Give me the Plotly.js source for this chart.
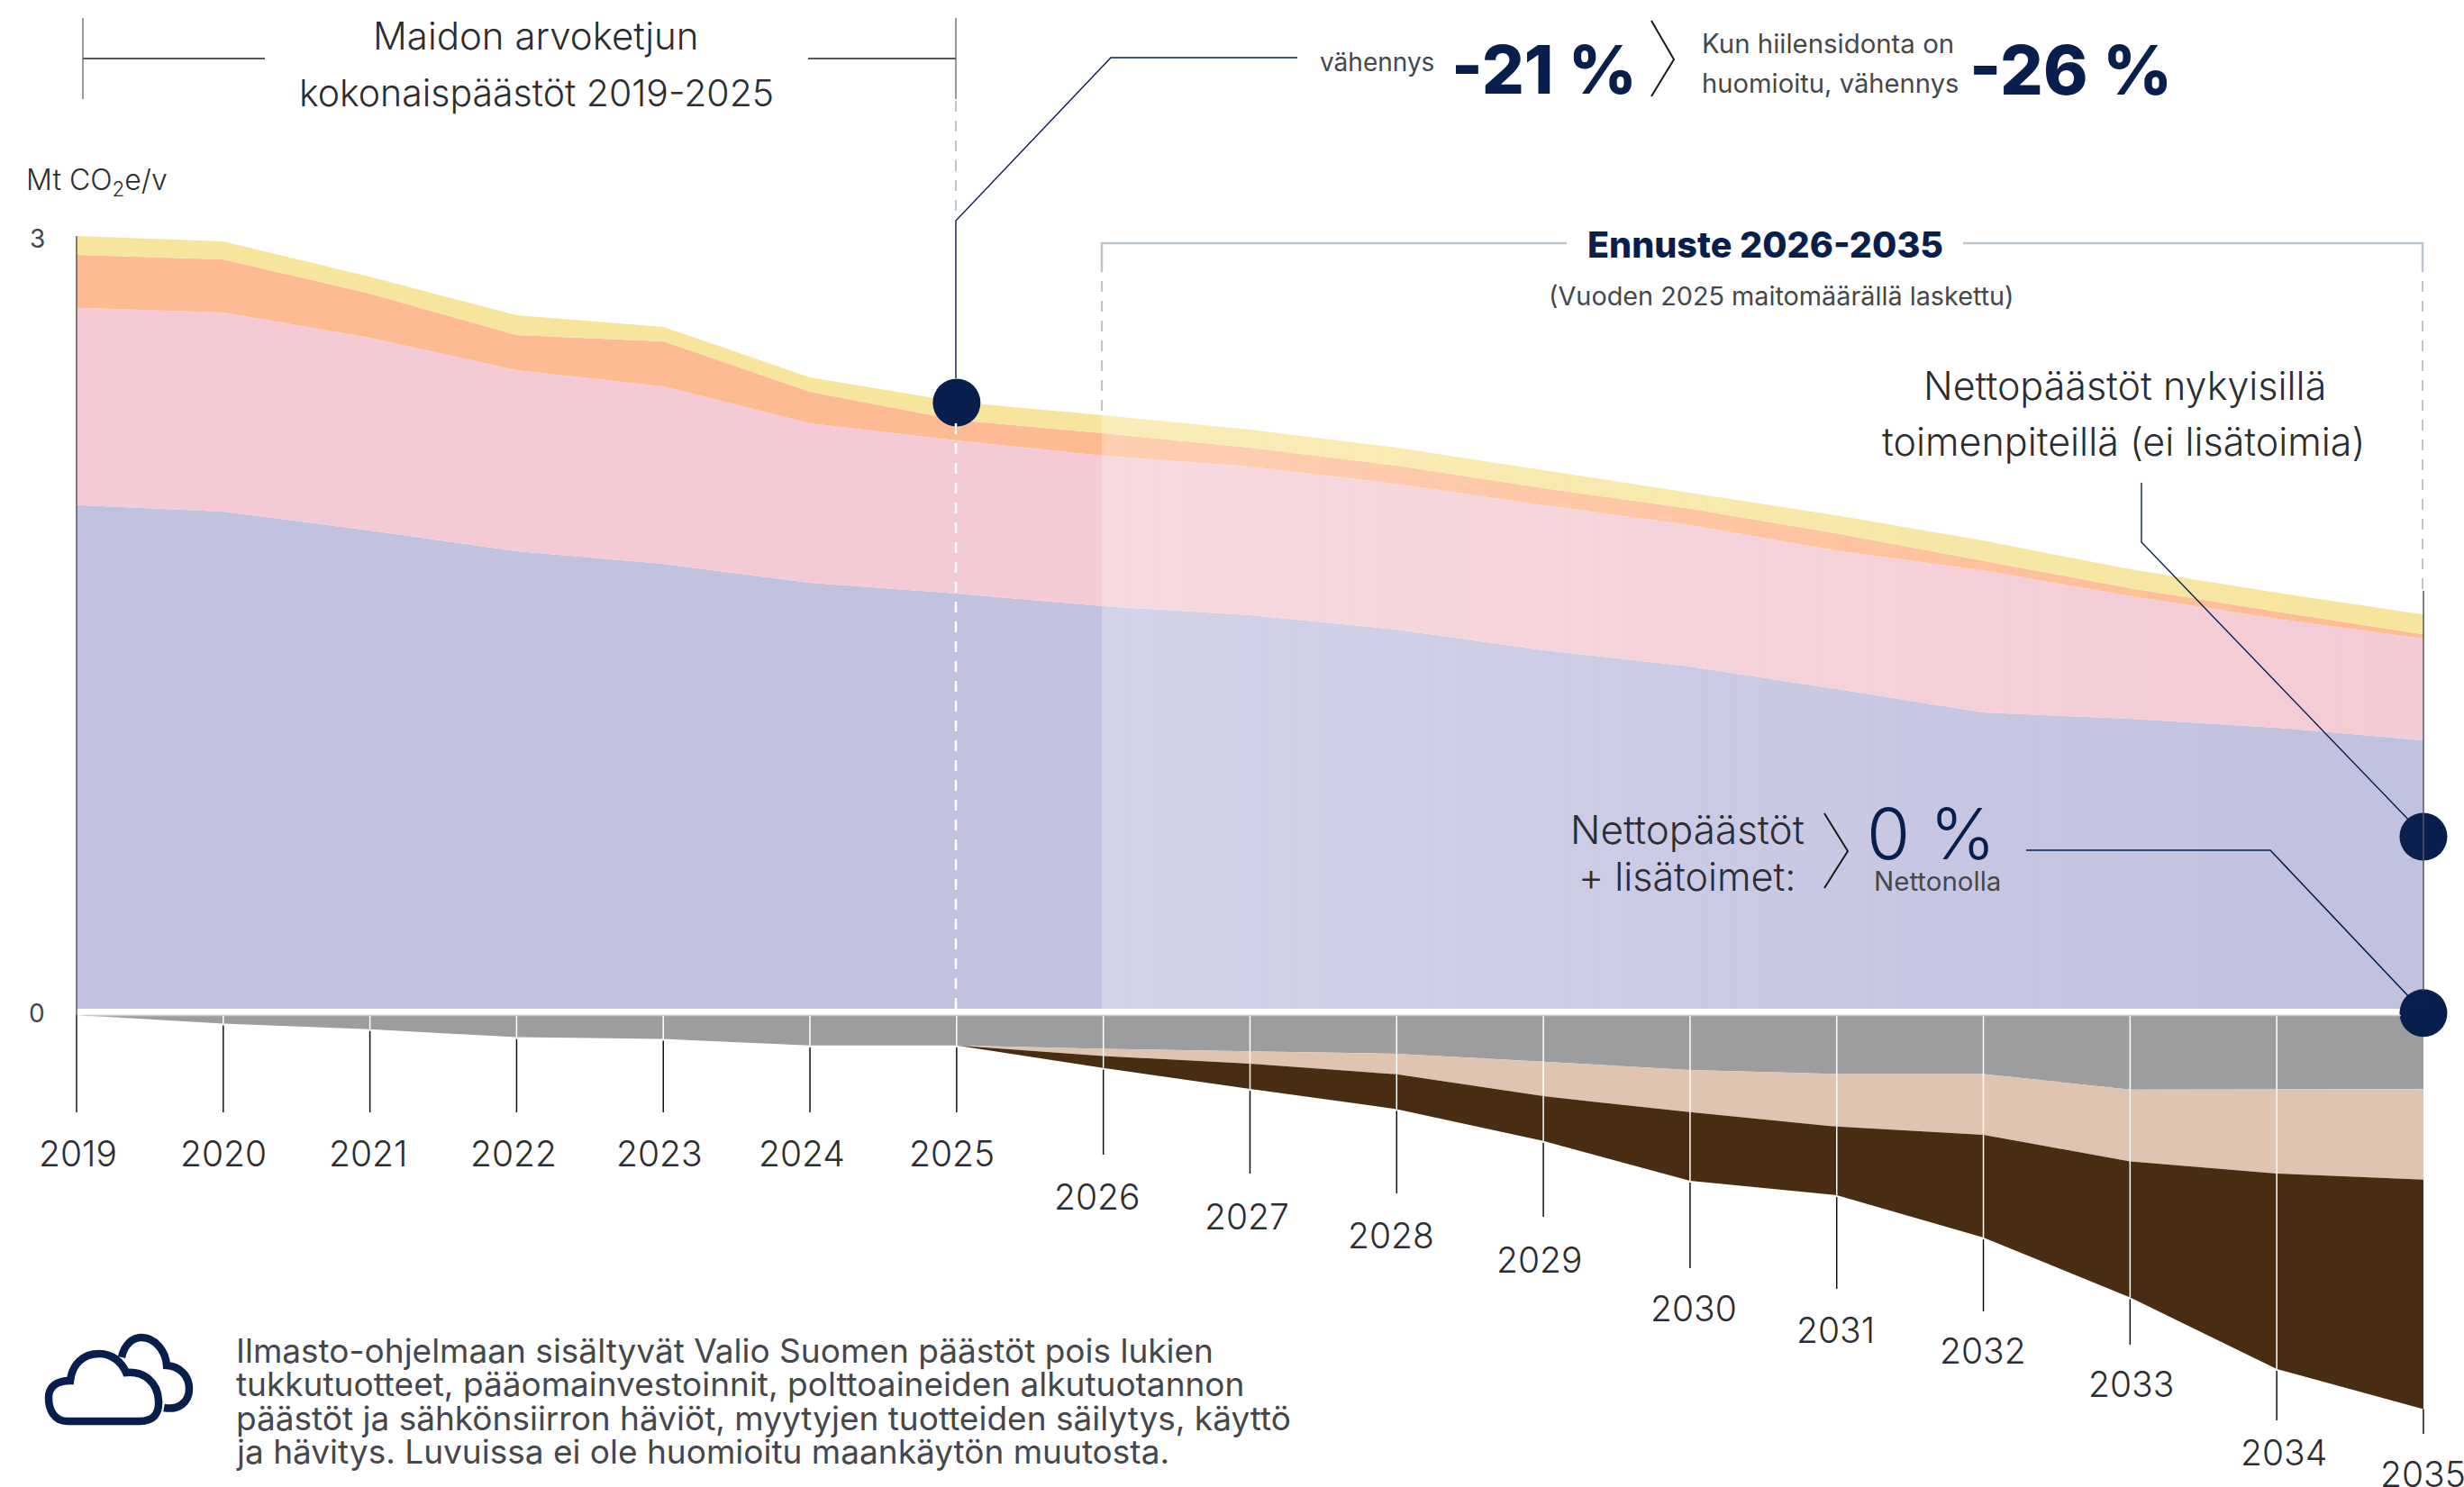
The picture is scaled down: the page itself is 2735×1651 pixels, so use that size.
<!DOCTYPE html>
<html><head><meta charset="utf-8">
<script src="https://cdn.plot.ly/plotly-3.0.1.min.js"></script>
<style>html,body{margin:0;padding:0;background:#fff}#c{width:2735px;height:1651px}</style>
</head><body><div id="c"></div>
<script>
const years=[2019,2020,2021,2022,2023,2024,2025,2026,2027,2028,2029,2030,2031,2032,2033,2034,2035];
const blue=[1.955,1.930,1.857,1.776,1.727,1.654,1.612,1.563,1.528,1.472,1.392,1.329,1.241,1.150,1.126,1.091,1.042];
const pink=[0.766,0.773,0.748,0.703,0.689,0.619,0.594,0.584,0.577,0.566,0.563,0.549,0.538,0.552,0.476,0.423,0.395];
const orange=[0.206,0.206,0.171,0.136,0.175,0.122,0.080,0.087,0.073,0.070,0.066,0.063,0.066,0.038,0.031,0.028,0.017];
const yellow=[0.073,0.070,0.066,0.077,0.056,0.056,0.070,0.070,0.070,0.070,0.070,0.063,0.070,0.077,0.073,0.073,0.077];
const grey=[0,-0.033,-0.055,-0.086,-0.093,-0.118,-0.118,-0.131,-0.141,-0.150,-0.181,-0.213,-0.229,-0.229,-0.289,-0.288,-0.288];
const peach=[0,0,0,0,0,0,0,-0.028,-0.048,-0.080,-0.134,-0.164,-0.204,-0.236,-0.279,-0.327,-0.351];
const brown=[0,0,0,0,0,0,0,-0.046,-0.098,-0.135,-0.174,-0.266,-0.266,-0.399,-0.528,-0.759,-0.891];
const dotYears=[2025,2035,2035];
const dotValues=[2.353,0.668,-0.017];

// page geometry
const W=2735,H=1651,Y0=1120,Y0b=1127,PXU=286,X19=85,PXY=162.81;
const fx=p=>2019+(p-X19)/PXY;           // page px -> year axis
const fyb=p=>(Y0b-p)/PXU;               // page px -> lower axis
const px=p=>p/W, py=p=>1-p/H;

const tickEndPx=[1235,1235,1235,1235,1235,1235,1235,1282,1303,1325,1351,1408,1431,1456,1493,1577,1592];
const labelPos=[[86,1280],[248,1280],[408,1280],[570,1280],[732,1280],[890,1280],[1056,1280],[1217,1328],[1384,1350],[1544,1371],[1708,1398],[1880,1452],[2037,1476],[2201,1499],[2365,1536],[2535,1612],[2689,1636]];

const FONT='Inter, "Open Sans", sans-serif';
const cols={blue:'#c1c1e0',pink:'#f4cbd4',orange:'#febb93',yellow:'#f7e59d',grey:'#9c9d9f',peach:'#e0c4b2',brown:'#482d12'};

const area=(y,c,g,ya)=>({x:years,y:y,type:'scatter',mode:'lines',stackgroup:g,yaxis:ya,line:{width:0},fillcolor:c,hoverinfo:'skip',showlegend:false});
const traces=[
 area(blue,cols.blue,'top','y'),area(pink,cols.pink,'top','y'),area(orange,cols.orange,'top','y'),area(yellow,cols.yellow,'top','y'),
 area(grey,cols.grey,'low','y2'),area(peach,cols.peach,'low','y2'),area(brown,cols.brown,'low','y2')
];
// tick stems through the scales
const bottoms=years.map((_,i)=>grey[i]+peach[i]+brown[i]);
let wx=[],wy=[],kx=[],ky=[];
years.forEach((yr,i)=>{
  if(i>0&&i<16){wx.push(yr,yr,null);wy.push(0,bottoms[i],null);}
  const b=(i===16)?bottoms[i]:bottoms[i]-2/PXU;
  kx.push(yr,yr,null);ky.push(i===0?0:b,fyb(tickEndPx[i]),null);
});
traces.push({x:wx,y:wy,yaxis:'y2',mode:'lines',line:{color:'#ffffff',width:1.5},hoverinfo:'skip',showlegend:false});
traces.push({x:kx,y:ky,yaxis:'y2',mode:'lines',line:{color:'#111111',width:1.5},hoverinfo:'skip',showlegend:false});

// shapes
const shapes=[];
// forecast veil (fading white)
const N=48, x0=fx(1223), x1=fx(2690);
for(let i=0;i<N;i++){
  const a=0.28*(1-i/N);
  shapes.push({type:'rect',xref:'x',yref:'y',x0:x0+(x1-x0)*i/N,x1:x0+(x1-x0)*(i+1)/N,y0:0,y1:3.1,fillcolor:'rgba(255,255,255,'+a.toFixed(3)+')',line:{width:0},layer:'above'});
}
const L=(pts,color,width,dash)=>{
  const d='M '+pts.map(p=>px(p[0]).toFixed(6)+','+py(p[1]).toFixed(6)).join(' L ');
  shapes.push({type:'path',xref:'paper',yref:'paper',path:d,line:{color:color,width:width,dash:dash||'solid'},layer:'above'});
};
const navy='#081f4d',brk='#bcc5cd',dk='#55585c';
// lower area top edge
L([[95,1127.5],[2665,1127.5]],'#c8c9cb',1.5);
// axes verticals
L([[85,262],[85,1235]],dk,1.5);
L([[2690,656],[2690,1100]],dk,1.5);
// title bracket
L([[92,20],[92,110]],dk,1.2);L([[1061,20],[1061,110]],dk,1.2);
L([[92,65],[294,65]],dk,2);L([[897,65],[1061,65]],dk,2);
// 2025 dashed
L([[1061,112],[1061,245]],brk,2,'12px,10px');
L([[1061,470],[1061,1120]],'#ffffff',2.5,'12px,10px');
L([[1061,420],[1061,245],[1233,64],[1440,64]],navy,1.4);
// forecast bracket
L([[1739,270],[1223,270],[1223,302]],brk,2.5);
L([[2179,270],[2689,270],[2689,302]],brk,2.5);
L([[1223,312],[1223,462]],brk,2,'12px,10px');
L([[2689,312],[2689,654]],brk,2,'12px,10px');
// chevrons
L([[1833,23],[1858,66],[1833,107]],'#1a1a1a',2);
L([[2025,903],[2051,945],[2025,986]],'#1a1a1a',2);
// connectors
L([[2377,536],[2377,602],[2680,917]],navy,1.4);
L([[2249,944],[2520,944],[2676,1109]],navy,1.6);
// cloud
const P=a=>a.map(s=>typeof s==='string'?s:(px(s[0]).toFixed(6)+','+py(s[1]).toFixed(6))).join(' ');
const cloud=(arr)=>shapes.push({type:'path',xref:'paper',yref:'paper',path:P(arr),line:{color:navy,width:8.5},fillcolor:'rgba(0,0,0,0)',layer:'above'});
cloud(['M',[75,1578],'C',[60,1578],[54,1565],[54,1552],'C',[54,1540],[62,1533],[78,1533],'C',[80,1515],[92,1503],[110,1503],'C',[124,1503],[135,1512],[140,1524],'C',[160,1522],[175,1535],[176,1555],'C',[177,1570],[170,1578],[155,1578],'Z']);
cloud(['M',[135,1507],'C',[138,1493],[147,1485],[157,1485],'C',[172,1485],[184,1500],[185,1516],'C',[200,1517],[210,1528],[210,1542],'C',[210,1557],[198,1566],[182,1563]]);

// text
const ann=[];
const T=(text,x,y,size,color,anchor,weight)=>ann.push({text:text,xref:'paper',yref:'paper',x:px(x),y:py(y),xanchor:anchor||'center',yanchor:'middle',showarrow:false,align:anchor||'center',
  font:{family:FONT,size:size,color:color,weight:weight||400}});
const ink='#2b2d30',gr='#45474a';
years.forEach((yr,i)=>{
  ann.push({text:String(yr),xref:'x',yref:'paper',x:fx(labelPos[i][0]),y:py(labelPos[i][1]),xanchor:'center',yanchor:'middle',showarrow:false,font:{family:FONT,size:39,color:ink,weight:300}});
});
T('Maidon arvoketjun',595,40,42,ink,'center',300);
T('kokonaispäästöt 2019-2025',595,103,41,ink,'center',300);
T('Mt CO<sub>2</sub>e/v',27,202,32,ink,'left',300);
T('3',41,265,28,gr,'center',400);
T('0',41,1125,28,gr,'center',400);
T('vähennys',1528,69,28,gr,'center',400);
T('-21 %',1714,77,74,navy,'center',800);
T('Kun hiilensidonta on',1887,48,29.4,gr,'left',400);
T('huomioitu, vähennys',1887,92,29.2,gr,'left',400);
T('-26 %',2298,77,75,navy,'center',800);
T('Ennuste 2026-2035',1959,272,39.5,navy,'center',800);
T('(Vuoden 2025 maitomäärällä laskettu)',1977,328,28.8,gr,'center',400);
T('Nettopäästöt nykyisillä',2358,428,43,ink,'center',300);
T('toimenpiteillä (ei lisätoimia)',2357,490,43,ink,'center',300);
T('Nettopäästöt',2005,921,44,ink,'right',300);
T('+ lisätoimet:',1995,973,43,ink,'right',300);
T('0 %',2143,925,78,navy,'center',300);
T('Nettonolla',2150,978,29.5,gr,'center',400);
T('Ilmasto-ohjelmaan sisältyvät Valio Suomen päästöt pois lukien',260,1499,37,gr,'left',400);
T('tukkutuotteet, pääomainvestoinnit, polttoaineiden alkutuotannon',260,1536,37,gr,'left',400);
T('päästöt ja sähkönsiirron häviöt, myytyjen tuotteiden säilytys, käyttö',260,1574,37,gr,'left',400);
T('ja hävitys. Luvuissa ei ole huomioitu maankäytön muutosta.',260,1611,37,gr,'left',400);

// dots on their own full-height overlay axis so they stay above both area panels
traces.push({x:dotYears,y:dotValues,yaxis:'y3',mode:'markers',marker:{size:53,color:navy,line:{width:0}},cliponaxis:false,hoverinfo:'skip',showlegend:false});

const layout={
 width:W,height:H,margin:{l:0,r:0,t:0,b:0},paper_bgcolor:'#fff',plot_bgcolor:'rgba(0,0,0,0)',showlegend:false,
 xaxis:{range:[fx(0),fx(W)],domain:[0,1],visible:false,fixedrange:true},
 yaxis:{domain:[0,1],range:[(Y0-H)/PXU,Y0/PXU],visible:false,fixedrange:true},
 yaxis2:{domain:[0,(H-Y0b)/H],range:[-(H-Y0b)/PXU,0],visible:false,fixedrange:true},
 yaxis3:{domain:[0,1],range:[(Y0-H)/PXU,Y0/PXU],visible:false,fixedrange:true},
 shapes:shapes,annotations:ann
};
Plotly.newPlot('c',traces,layout,{displayModeBar:false,staticPlot:true});
</script></body></html>
